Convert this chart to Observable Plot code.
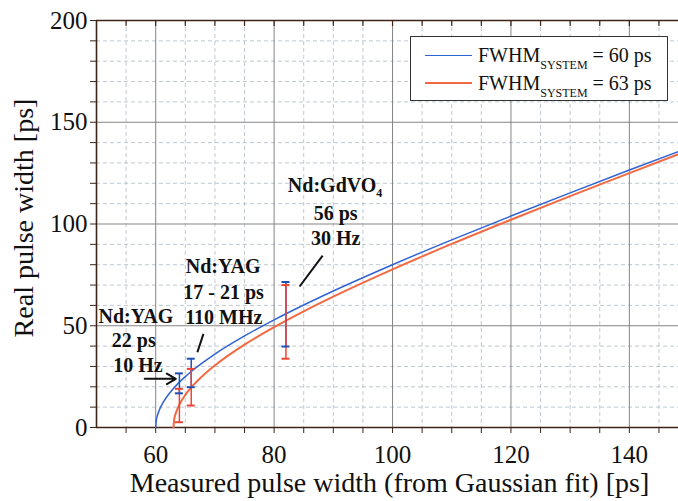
<!DOCTYPE html>
<html><head><meta charset="utf-8">
<script src="https://cdn.jsdelivr.net/npm/d3@7"></script>
<script src="https://cdn.jsdelivr.net/npm/@observablehq/plot@0.6"></script>
<style>
body{margin:0;background:#fff;}
#wrap{position:relative;width:678px;height:501px;}
#legend{position:absolute;left:410px;top:36px;width:258px;height:65px;border:1.5px solid #333;background:#fff;font-family:"Liberation Serif";font-size:20px;color:#111;box-sizing:border-box;}
.row{position:absolute;left:0;height:28px;display:flex;align-items:center;white-space:nowrap;}
.sw{width:47px;margin-left:14px;margin-right:6px;}
.sub{font-size:12px;position:relative;top:7px;}
</style></head><body><div id="wrap"></div>
<script>
// Curve FWHM_SYSTEM = 60 ps
const blueX = [60, 60.1, 60.3, 60.6, 61, 62, 63, 64, 65, 66, 68, 70, 75, 80, 85, 90, 100, 110, 120, 130, 140, 148.3];
const blueY = [0, 3.5, 6.0, 8.5, 11.0, 15.6, 19.2, 22.3, 25.0, 27.5, 32.0, 36.1, 45.0, 52.9, 60.2, 67.1, 80.0, 92.2, 103.9, 115.3, 126.5, 135.6];
// Curve FWHM_SYSTEM = 63 ps
const orangeX = [63, 63.1, 63.3, 63.6, 64, 65, 66, 68, 70, 75, 80, 85, 90, 100, 110, 120, 130, 140, 148.3];
const orangeY = [0, 3.5, 6.2, 8.7, 11.3, 16.0, 19.7, 25.6, 30.5, 40.7, 49.3, 57.1, 64.3, 77.7, 90.2, 102.1, 113.7, 125.0, 134.3];
// Error bars
const errX = [64, 66, 82];
const blueLo = [16.8, 19.8, 39.8];
const blueHi = [26.6, 33.8, 71.5];
const orangeLo = [2.6, 10.8, 33.8];
const orangeHi = [19.0, 28.8, 70.0];
// Annotations
const annoText = ["Nd:GdVO4", "56 ps", "30 Hz", "Nd:YAG", "17 - 21 ps", "110 MHz", "Nd:YAG", "22 ps", "10 Hz"];
const annoX = [90.3, 90.4, 90.4, 71.4, 71.45, 71.5, 56.65, 56.3, 57.0];
const annoY = [118.9, 105.3, 92.7, 79.1, 66.5, 54.2, 54.7, 42.8, 30.5];
const pointerX1 = [88.2, 68.06];
const pointerY1 = [84.5, 46.0];
const pointerX2 = [84.3, 67.04];
const pointerY2 = [69.3, 37.0];
const arrowX1 = [58.14], arrowX2 = [63.4], arrowY = [23.9];
// Axes
const xDomain = [50, 148.3];
const yDomain = [0, 200];
const xTicks = d3.range(55, 148, 5);
const yTicks = d3.range(0, 201, 10);
const xMajor = [60, 80, 100, 120, 140];
const yMajor = [50, 100, 150];
const legendLabels = ["60 ps", "63 ps"];
const xTitle = "Measured pulse width (from Gaussian fit) [ps]";
const yTitle = "Real pulse width [ps]";

const BLUE = "#2f63d3", ORANGE = "#f36a42", BLUEBAR = "#1f4fb8", REDBAR = "#ef4433", AX = "#3d2418";
const blue = blueX.map((x, i) => ({x, y: blueY[i]}));
const orange = orangeX.map((x, i) => ({x, y: orangeY[i]}));
const bars = errX.map((x, i) => ({x, bl: blueLo[i], bh: blueHi[i], ol: orangeLo[i], oh: orangeHi[i]}));
const annos = annoText.map((t, i) => ({t, x: annoX[i], y: annoY[i]}));
const pointers = pointerX1.map((x, i) => ({x1: x, y1: pointerY1[i], x2: pointerX2[i], y2: pointerY2[i]}));
const arrows = arrowX1.map((x, i) => ({x1: x, x2: arrowX2[i], y: arrowY[i]}));

const capOpts = {insetLeft: -4, insetRight: -4, strokeWidth: 2};

const chart = Plot.plot({
  width: 678, height: 501,
  marginLeft: 96, marginRight: 0, marginTop: 20, marginBottom: 74,
  style: {fontFamily: "Liberation Serif", background: "#fff", color: "#111"},
  x: {domain: xDomain},
  y: {domain: yDomain},
  marks: [
    Plot.ruleX(xTicks.filter(d => !xMajor.includes(d)), {stroke: "#b9c2cc", strokeDasharray: "4,3", strokeWidth: 0.9}),
    Plot.ruleY(yTicks.filter(d => d > 0 && d < 200 && !yMajor.includes(d)), {stroke: "#b9c2cc", strokeDasharray: "4,3", strokeWidth: 0.9}),
    Plot.ruleX(xMajor, {stroke: "#858585", strokeWidth: 1}),
    Plot.ruleY(yMajor, {stroke: "#858585", strokeWidth: 1}),
    Plot.ruleX(xTicks, {y1: () => yDomain[1], y2: () => yDomain[1], insetBottom: -6, stroke: AX, strokeWidth: 1.2}),
    Plot.axisX({ticks: xTicks, tickFormat: d => xMajor.includes(d) ? String(d) : "", tickSize: 6, tickPadding: 12, fontSize: 25, label: null, stroke: AX, fill: "#111"}),
    Plot.axisY({ticks: yTicks, tickFormat: d => d % 50 === 0 ? String(d) : "", tickSize: 6, tickPadding: 3, fontSize: 25, label: null, stroke: AX, fill: "#111"}),
    Plot.ruleX([xDomain[0]], {stroke: AX, strokeWidth: 1.6}),
    Plot.ruleY([yDomain[0], yDomain[1]], {stroke: AX, strokeWidth: 1.6}),
    Plot.line(orange, {x: "x", y: "y", stroke: ORANGE, strokeWidth: 2, curve: "monotone-x"}),
    Plot.line(blue, {x: "x", y: "y", stroke: BLUE, strokeWidth: 1.5, curve: "monotone-x"}),
    Plot.ruleX(bars, {x: "x", y1: "bl", y2: "bh", stroke: BLUEBAR, strokeWidth: 1.5}),
    Plot.ruleX(bars, {x: "x", y1: "ol", y2: "oh", stroke: REDBAR, strokeWidth: 1.5}),
    Plot.ruleY(bars, {y: "ol", x1: "x", x2: "x", stroke: REDBAR, ...capOpts}),
    Plot.ruleY(bars, {y: "oh", x1: "x", x2: "x", stroke: REDBAR, ...capOpts}),
    Plot.ruleY(bars, {y: "bl", x1: "x", x2: "x", stroke: BLUEBAR, ...capOpts}),
    Plot.ruleY(bars, {y: "bh", x1: "x", x2: "x", stroke: BLUEBAR, ...capOpts}),
    Plot.link(pointers, {x1: "x1", y1: "y1", x2: "x2", y2: "y2", stroke: "#111", strokeWidth: 2}),
    Plot.arrow(arrows, {x1: "x1", x2: "x2", y1: "y", y2: "y", stroke: "#111", strokeWidth: 2, headLength: 9, bend: 0}),
    Plot.text(annos, {x: "x", y: "y", text: "t", fontSize: 20, fontWeight: "bold", fill: "#111"}),
    Plot.text([xTitle], {frameAnchor: "bottom", textAnchor: "middle", lineAnchor: "middle", dx: 2, dy: 56, fontSize: 28, fill: "#111"}),
    Plot.text([yTitle], {frameAnchor: "left", textAnchor: "middle", lineAnchor: "middle", rotate: -90, dx: -72, dy: -6, fontSize: 28, fill: "#111"})
  ]
});

// subscript 4 in Nd:GdVO4
d3.select(chart).selectAll("text").each(function() {
  if (this.textContent === "Nd:GdVO4") {
    const t = d3.select(this);
    t.text("Nd:GdVO");
    t.append("tspan").attr("font-size", 12).attr("dy", "0.45em").text("4");
  }
});

const wrap = document.getElementById("wrap");
wrap.appendChild(chart);
const legend = document.createElement("div");
legend.id = "legend";
[BLUE, ORANGE].forEach((c, i) => {
  const row = document.createElement("div");
  row.className = "row";
  row.style.top = (4 + i * 28) + "px";
  const sw = document.createElement("div");
  sw.className = "sw";
  sw.style.borderTop = (i === 0 ? 1.5 : 2.5) + "px solid " + c;
  row.appendChild(sw);
  const txt = document.createElement("span");
  txt.innerHTML = "FWHM<span class='sub'>SYSTEM</span>&nbsp;= " + legendLabels[i];
  row.appendChild(txt);
  legend.appendChild(row);
});
wrap.appendChild(legend);
</script>
</body></html>
